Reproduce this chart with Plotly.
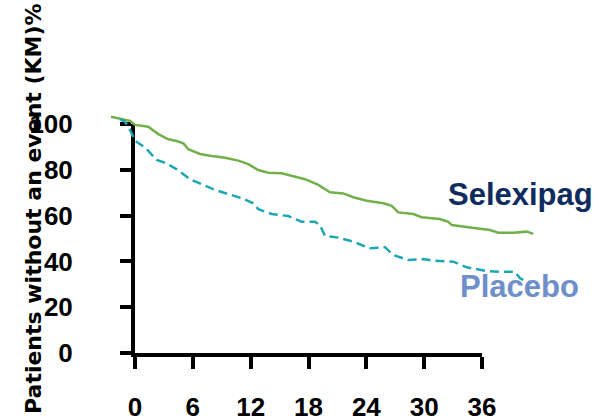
import plotly.graph_objects as go

# ---- data (months, % without event) ----
selexipag_t = [-2.49, -1.56, -0.52, 0.0, 1.38, 2.42, 3.45, 4.33, 5.01, 5.53, 6.74, 7.96, 9.34,
               10.72, 11.75, 12.79, 13.83, 15.22, 16.26, 17.64, 19.02, 20.23, 21.61, 22.65,
               24.04, 25.76, 26.63, 27.32, 28.87, 29.74, 31.64, 32.50, 32.86, 34.41, 35.79,
               36.83, 37.69, 39.25, 40.64, 41.32]
selexipag_v = [103.2, 102.5, 101.4, 99.6, 98.8, 95.6, 93.3, 92.6, 91.6, 89.0, 86.9, 86.0, 85.3,
               84.0, 82.5, 79.9, 78.7, 78.5, 77.3, 75.9, 73.4, 70.2, 69.7, 68.0,
               66.5, 65.4, 64.3, 61.4, 60.7, 59.3, 58.5, 57.3, 55.9, 55.2, 54.3,
               53.7, 52.5, 52.5, 53.0, 52.0]

placebo_t = [-1.56, -1.04, -0.52, 0.0, 1.04, 2.25, 3.29, 4.33, 5.71, 6.92, 8.30, 9.68, 11.07,
             12.27, 12.79, 14.18, 15.90, 17.29, 18.67, 19.19, 19.71, 20.93, 22.65, 24.38,
             25.94, 26.80, 28.35, 29.91, 30.95, 33.02, 34.41, 36.49, 37.87, 39.42, 39.94, 41.16]
placebo_v = [102.1, 101.0, 97.4, 92.7, 89.8, 84.3, 82.8, 80.2, 75.9, 73.8, 71.2, 69.4, 67.6,
             65.4, 62.8, 60.7, 59.8, 57.3, 57.3, 55.9, 51.1, 50.5, 48.6, 45.7,
             46.2, 42.8, 40.6, 41.0, 40.3, 39.9, 37.4, 35.8, 35.5, 35.5, 32.6, 30.4]

x_ticks = [0, 6, 12, 18, 24, 30, 36]
y_ticks = [0, 20, 40, 60, 80, 100]

# ---- layout geometry ----
W, H = 599, 418
X0_PX, X1_PX = 135, 482      # pixel positions of month 0 and 36
Y0_PX, Y1_PX = 353, 124      # pixel positions of 0 % and 100 %
xr = [x_ticks[0], x_ticks[-1]]
yr = [y_ticks[0], y_ticks[-1]]

dx0, dx1 = X0_PX / W, X1_PX / W
dy0, dy1 = 1 - Y0_PX / H, 1 - Y1_PX / H
sx = (xr[1] - xr[0]) / (dx1 - dx0)
sy = (yr[1] - yr[0]) / (dy1 - dy0)
x2_range = [xr[0] - dx0 * sx, xr[1] + (1 - dx1) * sx]
y2_range = [yr[0] - dy0 * sy, yr[1] + (1 - dy1) * sy]

GREEN = "#72B04A"
TEAL = "#1DA6B3"
TICKFONT = dict(family="Liberation Sans", size=26, color="black", weight="bold")

fig = go.Figure()
# carrier trace (draws nothing) so that the visible axis frame x/y is rendered
fig.add_trace(go.Scatter(x=xr, y=[yr[0], yr[0]], mode="none", xaxis="x", yaxis="y",
                         showlegend=False, hoverinfo="skip"))
fig.add_trace(go.Scatter(x=selexipag_t, y=selexipag_v, mode="lines", name="Selexipag",
                         line=dict(color=GREEN, width=2.5), xaxis="x2", yaxis="y2",
                         showlegend=False, hoverinfo="skip"))
fig.add_trace(go.Scatter(x=placebo_t, y=placebo_v, mode="lines", name="Placebo",
                         line=dict(color=TEAL, width=2.5, dash="9px,5px"), xaxis="x2", yaxis="y2",
                         showlegend=False, hoverinfo="skip"))

fig.update_layout(
    width=W, height=H,
    margin=dict(l=0, r=0, t=0, b=0, autoexpand=False),
    paper_bgcolor="white", plot_bgcolor="rgba(0,0,0,0)",
    xaxis=dict(domain=[dx0, dx1], range=xr, anchor="y", showline=True, linecolor="black",
               linewidth=4, ticks="outside", ticklen=12, tickwidth=4, tickcolor="black",
               tickvals=x_ticks, ticktext=[str(t) for t in x_ticks], tickfont=TICKFONT,
               ticklabelstandoff=16, showgrid=False, zeroline=False, fixedrange=True,
               automargin=False),
    yaxis=dict(domain=[dy0, dy1], range=yr, anchor="x", showline=True, linecolor="black",
               linewidth=4, ticks="outside", ticklen=11, tickwidth=4, tickcolor="black",
               tickvals=y_ticks, ticktext=[str(t) for t in y_ticks], tickfont=TICKFONT,
               ticklabelstandoff=42, showgrid=False, zeroline=False, fixedrange=True,
               automargin=False),
    xaxis2=dict(domain=[0, 1], range=x2_range, anchor="y2", visible=False, fixedrange=True,
                automargin=False),
    yaxis2=dict(domain=[0, 1], range=y2_range, anchor="x2", visible=False, fixedrange=True,
                automargin=False),
    annotations=[
        dict(text="Patients without an event (KM)%", textangle=-90, xref="paper", yref="paper",
             x=33 / W, y=1 - 209 / H, xanchor="center", yanchor="middle", showarrow=False,
             font=dict(family="DejaVu Sans", size=22, color="black", weight="bold")),
        dict(text="Selexipag", xref="paper", yref="paper", x=520 / W, y=1 - 194 / H,
             xanchor="center", yanchor="middle", showarrow=False,
             font=dict(family="Liberation Sans", size=31, color="#0E2C5E", weight="bold")),
        dict(text="Placebo", xref="paper", yref="paper", x=519 / W, y=1 - 286 / H,
             xanchor="center", yanchor="middle", showarrow=False,
             font=dict(family="Liberation Sans", size=31, color="#6E8FC8", weight="bold")),
    ],
)

fig.write_html("out.html", config={"displayModeBar": False},
               post_script="document.body.style.margin='0';document.body.style.overflow='hidden';")
